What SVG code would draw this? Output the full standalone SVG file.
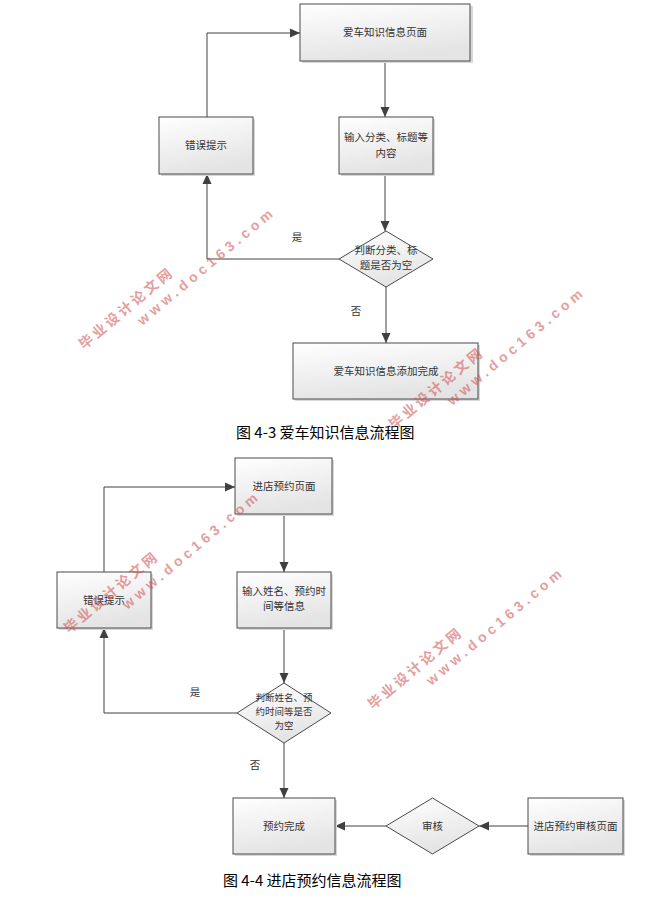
<svg xmlns="http://www.w3.org/2000/svg" width="669" height="900" viewBox="0 0 669 900">
<style>
.box{fill:url(#g);stroke:#4a4a4a;stroke-width:1}
.sh{fill:#d8d8d8}
.t{font-family:"Noto Sans CJK SC","Noto Sans",sans-serif;font-size:10.5px;fill:#333;text-anchor:middle}
.ts{font-size:9.5px}
.cap{font-family:"Noto Sans CJK SC","Noto Sans",sans-serif;font-size:15px;fill:#000}
.ln{fill:none;stroke:#404040;stroke-width:1}
.arr{marker-end:url(#ah)}
.wm1{font-family:"Noto Sans CJK SC",sans-serif;font-weight:bold;font-size:14px;letter-spacing:3px;fill:#d05050;opacity:0.55}
.wm2{font-family:"Liberation Sans",sans-serif;font-weight:bold;font-size:14px;letter-spacing:4.2px;fill:#d05050;opacity:0.55}
</style>
<defs>
<linearGradient id="g" x1="0" y1="0" x2="0.3" y2="1">
<stop offset="0" stop-color="#ffffff"/>
<stop offset="1" stop-color="#e4e4e4"/>
</linearGradient>
<marker id="ah" markerUnits="userSpaceOnUse" markerWidth="10" markerHeight="10" refX="10" refY="5" orient="auto">
<path d="M0,0.5 L10,5 L0,9.5 z" fill="#404040"/>
</marker>
</defs>
<rect width="669" height="900" fill="#fff"/>

<g id="connectors">
<polyline class="ln arr" points="207,117 207,33 300,33"/>
<line class="ln arr" x1="385" y1="61" x2="385" y2="117"/>
<line class="ln arr" x1="385" y1="174" x2="385" y2="231"/>
<polyline class="ln arr" points="339,259 207,259 207,174"/>
<line class="ln arr" x1="386" y1="287" x2="386" y2="343"/>
<polyline class="ln arr" points="104,572 104,487 235,487"/>
<line class="ln arr" x1="284" y1="514" x2="284" y2="572"/>
<line class="ln arr" x1="284" y1="628" x2="284" y2="683"/>
<polyline class="ln arr" points="237,713 104,713 104,628"/>
<line class="ln arr" x1="284" y1="743" x2="284" y2="798"/>
<line class="ln arr" x1="528" y1="826" x2="479" y2="826"/>
<line class="ln arr" x1="386" y1="826" x2="335" y2="826"/>
<text class="t" x="297" y="241">是</text>
<text class="t" x="356" y="315">否</text>
<text class="t" x="195" y="696">是</text>
<text class="t" x="255" y="769">否</text>
</g>

<g id="n1">
<rect class="sh" x="302" y="6" width="171" height="57"/>
<rect class="box" x="300" y="4" width="170" height="57"/>
<text class="t" x="385" y="36">爱车知识信息页面</text>
</g>
<g id="n2">
<rect class="sh" x="341" y="119" width="94" height="57"/>
<rect class="box" x="339" y="117" width="94" height="57"/>
<text class="t" x="386" y="141">输入分类、标题等</text>
<text class="t" x="386" y="157">内容</text>
</g>
<g id="n3">
<rect class="sh" x="161" y="119" width="94" height="57"/>
<rect class="box" x="159" y="117" width="94" height="57"/>
<text class="t" x="206" y="149">错误提示</text>
</g>
<g id="n4">
<polygon class="box" points="386,231 433,259 386,287 339,259"/>
<text class="t" x="386" y="254">判断分类、标</text>
<text class="t" x="386" y="269">题是否为空</text>
</g>
<g id="n5">
<rect class="sh" x="295" y="345" width="185" height="56"/>
<rect class="box" x="293" y="343" width="185" height="56"/>
<text class="t" x="386" y="375">爱车知识信息添加完成</text>
</g>
<text class="cap" x="236" y="438">图 4-3 爱车知识信息流程图</text>

<g id="m1">
<rect class="sh" x="237" y="460" width="97" height="56"/>
<rect class="box" x="235" y="458" width="97" height="56"/>
<text class="t" x="284" y="490">进店预约页面</text>
</g>
<g id="m2">
<rect class="sh" x="59" y="574" width="94" height="56"/>
<rect class="box" x="57" y="572" width="94" height="56"/>
<text class="t" x="104" y="604">错误提示</text>
</g>
<g id="m3">
<rect class="sh" x="239" y="574" width="94" height="56"/>
<rect class="box" x="237" y="572" width="94" height="56"/>
<text class="t" x="284" y="595">输入姓名、预约时</text>
<text class="t" x="284" y="610">间等信息</text>
</g>
<g id="m4">
<polygon class="box" points="284,683 331,713 284,743 237,713"/>
<text class="t ts" x="284" y="701">判断姓名、预</text>
<text class="t ts" x="284" y="715">约时间等是否</text>
<text class="t ts" x="284" y="729">为空</text>
</g>
<g id="m5">
<rect class="sh" x="235" y="800" width="102" height="56"/>
<rect class="box" x="233" y="798" width="102" height="56"/>
<text class="t" x="284" y="830">预约完成</text>
</g>
<g id="m6">
<polygon class="box" points="432.5,798 479,826 432.5,854 386,826"/>
<text class="t" x="432.5" y="830">审核</text>
</g>
<g id="m7">
<rect class="sh" x="530" y="800" width="95" height="56"/>
<rect class="box" x="528" y="798" width="95" height="56"/>
<text class="t" x="575.5" y="830">进店预约审核页面</text>
</g>
<text class="cap" x="223" y="886">图 4-4 进店预约信息流程图</text>

<g id="watermarks">
<g transform="translate(84,350) rotate(-40)"><text class="wm1" x="0" y="0">毕业设计论文网</text><text class="wm2" x="60" y="19">www.doc163.com</text></g>
<g transform="translate(394,430) rotate(-40)"><text class="wm1" x="0" y="0">毕业设计论文网</text><text class="wm2" x="60" y="19">www.doc163.com</text></g>
<g transform="translate(69,634) rotate(-40)"><text class="wm1" x="0" y="0">毕业设计论文网</text><text class="wm2" x="60" y="19">www.doc163.com</text></g>
<g transform="translate(373,710) rotate(-40)"><text class="wm1" x="0" y="0">毕业设计论文网</text><text class="wm2" x="60" y="19">www.doc163.com</text></g>
</g>
</svg>
